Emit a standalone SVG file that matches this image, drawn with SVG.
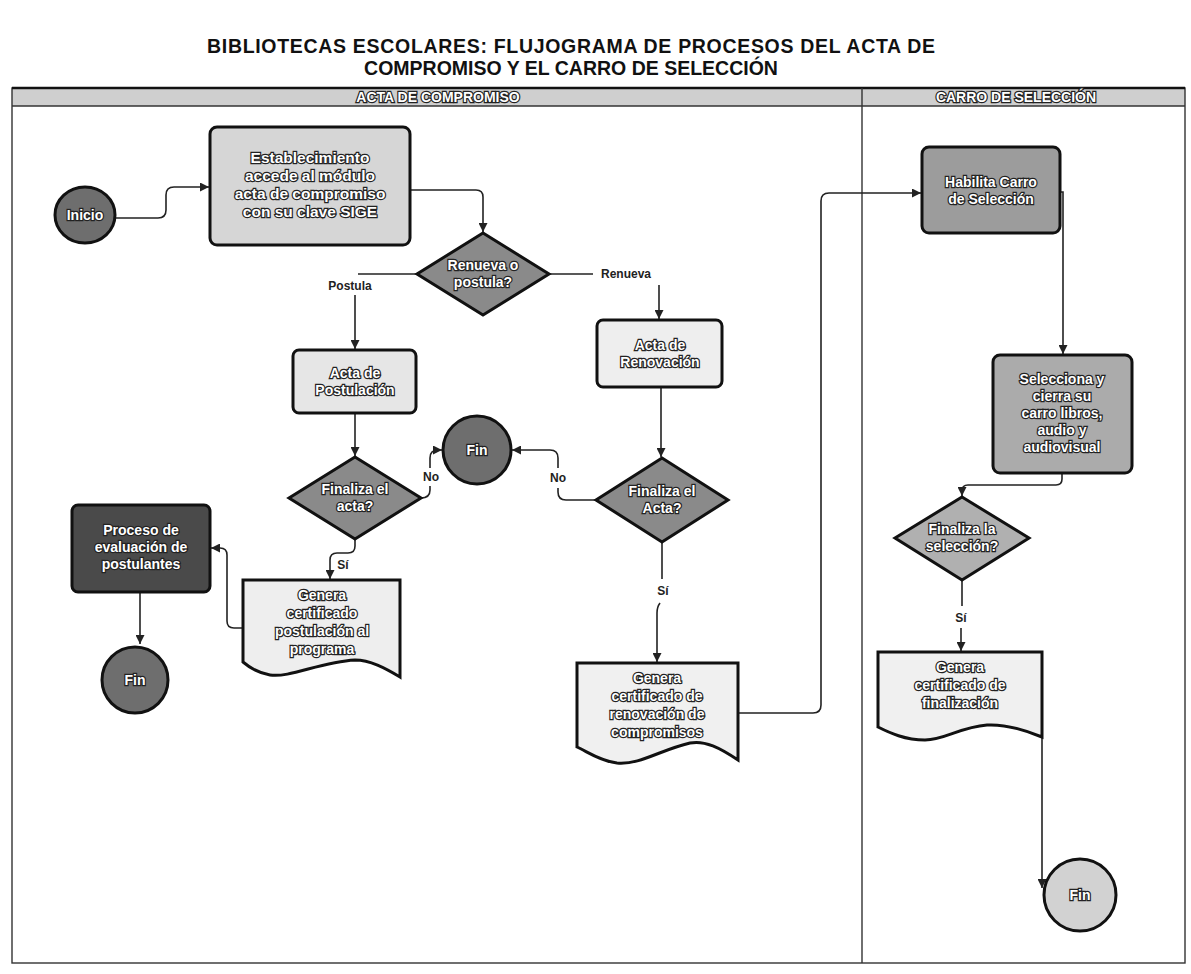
<svg xmlns="http://www.w3.org/2000/svg" width="1191" height="974" viewBox="0 0 1191 974">
<defs>
<marker id="arr" markerWidth="9" markerHeight="9" refX="9" refY="4.5" orient="auto" markerUnits="userSpaceOnUse"><path d="M0,0 L9,4.5 L0,9 z" fill="#222"/></marker>
<style>
.conn{fill:none;stroke:#222;stroke-width:1.6}
.nd{stroke:#111;stroke-width:3}
.nt{font-family:"Liberation Sans",Arial,sans-serif;font-weight:bold;font-size:14px;fill:#fff;stroke:#222;stroke-width:2.4;paint-order:stroke;text-anchor:middle}
.lbl{font-family:"Liberation Sans",Arial,sans-serif;font-weight:bold;font-size:12px;fill:#222;text-anchor:middle}
.ttl{font-family:"Liberation Sans",Arial,sans-serif;font-weight:bold;font-size:19.5px;fill:#111;text-anchor:middle}
.hd{font-family:"Liberation Sans",Arial,sans-serif;font-weight:bold;font-size:14px;fill:#fff;stroke:#222;stroke-width:2.4;paint-order:stroke;text-anchor:middle}
.frame{fill:none;stroke:#333;stroke-width:1.4}
</style>
</defs>
<rect width="1191" height="974" fill="#fff"/>

<g id="title">
<text class="ttl" x="571" y="53" textLength="728" lengthAdjust="spacing">BIBLIOTECAS ESCOLARES: FLUJOGRAMA DE PROCESOS DEL ACTA DE</text>
<text class="ttl" x="571" y="75">COMPROMISO Y EL CARRO DE SELECCIÓN</text>
</g>

<g id="pool">
<rect x="12" y="88" width="1173" height="18" fill="#cfcfcf"/>
<rect class="frame" x="12" y="88" width="1173" height="875"/>
<line x1="12" y1="88" x2="1185" y2="88" stroke="#111" stroke-width="2.5"/>
<line x1="12" y1="106" x2="1185" y2="106" stroke="#333" stroke-width="1.4"/>
<line x1="862" y1="88" x2="862" y2="963" stroke="#333" stroke-width="1.4"/>
<text class="hd" x="438" y="102">ACTA DE COMPROMISO</text>
<text class="hd" x="1016" y="102">CARRO DE SELECCIÓN</text>
</g>

<g id="connectors">
<path class="conn" d="M115,218 H158 Q166,218 166,210 V195 Q166,187 174,187 H209" marker-end="url(#arr)"/>
<path class="conn" d="M410,190 H476 Q483,190 483,197 V232" marker-end="url(#arr)"/>
<path class="conn" d="M417,274 H358"/>
<path class="conn" d="M355,295 V349" marker-end="url(#arr)"/>
<path class="conn" d="M549,274 H593"/>
<path class="conn" d="M659,285 V319" marker-end="url(#arr)"/>
<path class="conn" d="M355,413 V456" marker-end="url(#arr)"/>
<path class="conn" d="M661,387 V457" marker-end="url(#arr)"/>
<path class="conn" d="M421,498 Q430,498 430,490 V486"/>
<path class="conn" d="M430,468 V458 Q430,450 438,450 H442" marker-end="url(#arr)"/>
<path class="conn" d="M596,500 H566 Q558,500 558,492 V488"/>
<path class="conn" d="M558,468 V458 Q558,450 550,450 H512" marker-end="url(#arr)"/>
<path class="conn" d="M662,542 V579"/>
<path class="conn" d="M660,603 Q657,607 657,613 V662" marker-end="url(#arr)"/>
<path class="conn" d="M355,539 V546 Q355,553 348,553 H337 Q330,553 330,560 V579" marker-end="url(#arr)"/>
<path class="conn" d="M243,628 H234 Q227,628 227,621 V555 Q227,548 220,548 H211" marker-end="url(#arr)"/>
<path class="conn" d="M140,592 V644" marker-end="url(#arr)"/>
<path class="conn" d="M738,713 H813 Q821,713 821,705 V201 Q821,193 829,193 H921" marker-end="url(#arr)"/>
<path class="conn" d="M1060,192 H1063 V354" marker-end="url(#arr)"/>
<path class="conn" d="M1062,473 V479 Q1062,485 1056,485 H968 Q962,485 962,491 V496" marker-end="url(#arr)"/>
<path class="conn" d="M962,580 V606"/>
<path class="conn" d="M961,628 V651" marker-end="url(#arr)"/>
<path class="conn" d="M1042,737 V888" marker-end="url(#arr)"/>
<text class="lbl" x="350" y="290">Postula</text>
<text class="lbl" x="626" y="278">Renueva</text>
<text class="lbl" x="431" y="481">No</text>
<text class="lbl" x="558" y="482">No</text>
<text class="lbl" x="663" y="595">Sí</text>
<text class="lbl" x="343" y="569">Sí</text>
<text class="lbl" x="961" y="622">Sí</text>
</g>

<g id="inicio">
<ellipse class="nd" cx="85" cy="215" rx="30" ry="28" fill="#6e6e6e"/>
<text class="nt" x="85" y="220">Inicio</text>
</g>

<g id="establecimiento">
<rect class="nd" x="210" y="127" width="200" height="118" rx="7" fill="#d6d6d6"/>
<text class="nt" style="font-size:15.5px" x="310" y="163">Establecimiento</text>
<text class="nt" style="font-size:15.5px" x="310" y="181">accede al módulo</text>
<text class="nt" style="font-size:15.5px" x="310" y="199">acta de compromiso</text>
<text class="nt" style="font-size:15.5px" x="310" y="217">con su clave SIGE</text>
</g>

<g id="renueva-postula">
<polygon class="nd" points="483,233 549,274 483,315 417,274" fill="#8a8a8a"/>
<text class="nt" x="483" y="270">Renueva o</text>
<text class="nt" x="483" y="287">postula?</text>
</g>

<g id="acta-postulacion">
<rect class="nd" x="293" y="350" width="123" height="63" rx="6" fill="#e6e6e6"/>
<text class="nt" x="355" y="378">Acta de</text>
<text class="nt" x="355" y="395">Postulación</text>
</g>

<g id="acta-renovacion">
<rect class="nd" x="597" y="320" width="125" height="67" rx="6" fill="#eeeeee"/>
<text class="nt" x="660" y="350">Acta de</text>
<text class="nt" x="660" y="367">Renovación</text>
</g>

<g id="finaliza-acta-post">
<polygon class="nd" points="355,457 421,498 355,539 289,498" fill="#8a8a8a"/>
<text class="nt" x="355" y="494">Finaliza el</text>
<text class="nt" x="355" y="511">acta?</text>
</g>

<g id="fin-1">
<circle class="nd" cx="477" cy="450" r="34" fill="#6e6e6e"/>
<text class="nt" x="477" y="455">Fin</text>
</g>

<g id="finaliza-acta-renov">
<polygon class="nd" points="662,458 728,500 662,542 596,500" fill="#8a8a8a"/>
<text class="nt" x="662" y="496">Finaliza el</text>
<text class="nt" x="662" y="513">Acta?</text>
</g>

<g id="certificado-postulacion">
<path class="nd" d="M243,580 H400 V677 C385,668 370,660 355,660 C320,662 290,678 270,675 C258,673 250,668 243,662 Z" fill="#eeeeee"/>
<text class="nt" x="322" y="600">Genera</text>
<text class="nt" x="322" y="618">certificado</text>
<text class="nt" x="322" y="636">postulación al</text>
<text class="nt" x="322" y="654">programa</text>
</g>

<g id="proceso-evaluacion">
<rect class="nd" x="72" y="505" width="138" height="87" rx="6" fill="#4a4a4a"/>
<text class="nt" x="141" y="535">Proceso de</text>
<text class="nt" x="141" y="552">evaluación de</text>
<text class="nt" x="141" y="569">postulantes</text>
</g>

<g id="fin-2">
<circle class="nd" cx="135" cy="680" r="33" fill="#6e6e6e"/>
<text class="nt" x="135" y="685">Fin</text>
</g>

<g id="certificado-renovacion">
<path class="nd" d="M577,663 H738 V760 C720,748 705,740 690,743 C660,750 640,765 617,763 C600,761 588,752 577,747 Z" fill="#f0f0f0"/>
<text class="nt" x="657" y="683">Genera</text>
<text class="nt" x="657" y="701">certificado de</text>
<text class="nt" x="657" y="719">renovación de</text>
<text class="nt" x="657" y="737">compromisos</text>
</g>

<g id="habilita-carro">
<rect class="nd" x="922" y="147" width="138" height="86" rx="7" fill="#9c9c9c"/>
<text class="nt" x="991" y="187">Habilita Carro</text>
<text class="nt" x="991" y="204">de Selección</text>
</g>

<g id="selecciona-cierra">
<rect class="nd" x="993" y="355" width="139" height="118" rx="7" fill="#ababab"/>
<text class="nt" x="1062" y="384">Selecciona y</text>
<text class="nt" x="1062" y="401">cierra su</text>
<text class="nt" x="1062" y="418">carro libros,</text>
<text class="nt" x="1062" y="435">audio y</text>
<text class="nt" x="1062" y="452">audiovisual</text>
</g>

<g id="finaliza-seleccion">
<polygon class="nd" points="962,497 1029,538 962,580 895,538" fill="#b0b0b0"/>
<text class="nt" x="962" y="534">Finaliza la</text>
<text class="nt" x="962" y="551">selección?</text>
</g>

<g id="certificado-finalizacion">
<path class="nd" d="M878,652 H1042 V737 C1025,730 1005,724 987,725 C960,727 945,740 925,740 C905,740 890,733 878,727 Z" fill="#f0f0f0"/>
<text class="nt" x="960" y="672">Genera</text>
<text class="nt" x="960" y="690">certificado de</text>
<text class="nt" x="960" y="708">finalización</text>
</g>

<g id="fin-3">
<circle class="nd" cx="1080" cy="895" r="36" fill="#d2d2d2"/>
<text class="nt" x="1080" y="900">Fin</text>
</g>
</svg>
